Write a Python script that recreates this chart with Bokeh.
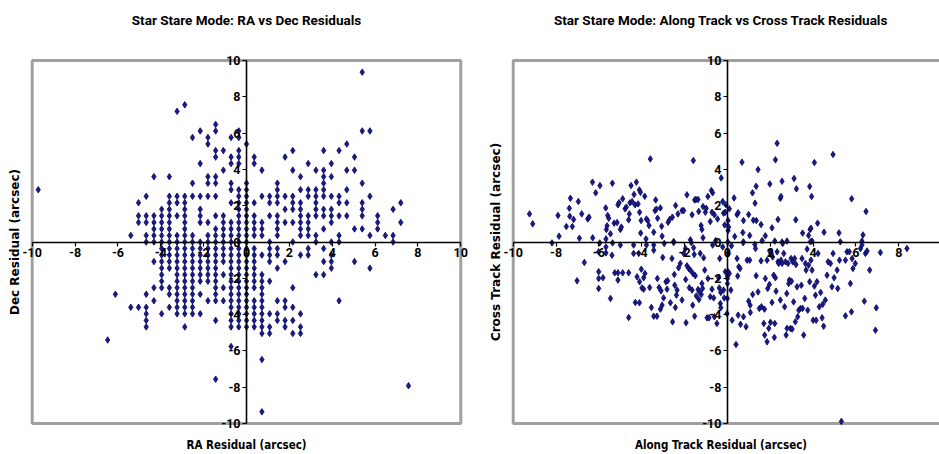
from bokeh.plotting import figure
from bokeh.layouts import row
from bokeh.models import LinearAxis, FixedTicker, Range1d, Title, BoxAnnotation
from bokeh.embed import file_html
from bokeh.resources import INLINE

# ---------------- data ----------------
axis_ticks = [-10, -8, -6, -4, -2, 0, 2, 4, 6, 8, 10]
axis_limits = (-10, 10)

# Left panel: RA vs Dec residuals (arcsec)
ra_resid = [
    -9.72,
    -6.48,
    -6.12,
    -5.40, -5.40,
    -5.04, -5.04, -5.04, -5.04,
    -4.68, -4.68, -4.68, -4.68, -4.68, -4.68, -4.68, -4.68, -4.68, -4.68,
    -4.32, -4.32, -4.32, -4.32, -4.32, -4.32, -4.32, -4.32, -4.32,
    -3.96, -3.96, -3.96, -3.96, -3.96, -3.96, -3.96, -3.96, -3.96, -3.96, -3.96, -3.96, -3.96, -3.96,
    -3.60, -3.60, -3.60, -3.60, -3.60, -3.60, -3.60, -3.60, -3.60, -3.60, -3.60, -3.60, -3.60, -3.60, -3.60, -3.60,
    -3.24, -3.24, -3.24, -3.24, -3.24, -3.24, -3.24, -3.24, -3.24, -3.24, -3.24, -3.24, -3.24, -3.24, -3.24, -3.24, -3.24,
    -2.88, -2.88, -2.88, -2.88, -2.88, -2.88, -2.88, -2.88, -2.88, -2.88, -2.88, -2.88, -2.88, -2.88, -2.88, -2.88, -2.88, -2.88, -2.88, -2.88, -2.88,
    -2.52, -2.52, -2.52, -2.52, -2.52, -2.52, -2.52, -2.52, -2.52, -2.52, -2.52, -2.52, -2.52, -2.52, -2.52, -2.52,
    -2.16, -2.16, -2.16, -2.16, -2.16, -2.16, -2.16, -2.16, -2.16, -2.16, -2.16, -2.16, -2.16, -2.16, -2.16,
    -1.80, -1.80, -1.80, -1.80, -1.80, -1.80, -1.80, -1.80, -1.80, -1.80, -1.80, -1.80, -1.80, -1.80, -1.80,
    -1.44, -1.44, -1.44, -1.44, -1.44, -1.44, -1.44, -1.44, -1.44, -1.44, -1.44, -1.44, -1.44, -1.44, -1.44, -1.44, -1.44, -1.44, -1.44, -1.44, -1.44, -1.44,
    -1.08, -1.08, -1.08, -1.08, -1.08, -1.08, -1.08, -1.08, -1.08, -1.08, -1.08, -1.08, -1.08,
    -0.72, -0.72, -0.72, -0.72, -0.72, -0.72, -0.72, -0.72, -0.72, -0.72, -0.72, -0.72, -0.72, -0.72, -0.72, -0.72, -0.72, -0.72, -0.72, -0.72, -0.72, -0.72, -0.72, -0.72,
    -0.36, -0.36, -0.36, -0.36, -0.36, -0.36, -0.36, -0.36, -0.36, -0.36, -0.36, -0.36, -0.36, -0.36, -0.36, -0.36, -0.36, -0.36, -0.36, -0.36, -0.36, -0.36, -0.36, -0.36, -0.36, -0.36, -0.36,
    0.00, 0.00, 0.00, 0.00, 0.00, 0.00, 0.00, 0.00, 0.00, 0.00, 0.00, 0.00, 0.00, 0.00, 0.00, 0.00, 0.00, 0.00, 0.00, 0.00, 0.00, 0.00, 0.00, 0.00,
    0.36, 0.36, 0.36, 0.36, 0.36, 0.36, 0.36, 0.36, 0.36, 0.36, 0.36, 0.36, 0.36, 0.36, 0.36, 0.36, 0.36, 0.36, 0.36,
    0.72, 0.72, 0.72, 0.72, 0.72, 0.72, 0.72, 0.72, 0.72, 0.72, 0.72, 0.72, 0.72, 0.72, 0.72, 0.72, 0.72, 0.72,
    1.08, 1.08, 1.08, 1.08, 1.08, 1.08, 1.08, 1.08, 1.08, 1.08, 1.08,
    1.44, 1.44, 1.44, 1.44, 1.44, 1.44, 1.44, 1.44, 1.44, 1.44, 1.44, 1.44, 1.44, 1.44,
    1.80, 1.80, 1.80, 1.80, 1.80, 1.80, 1.80, 1.80, 1.80,
    2.16, 2.16, 2.16, 2.16, 2.16, 2.16, 2.16, 2.16, 2.16, 2.16, 2.16,
    2.52, 2.52, 2.52, 2.52, 2.52, 2.52, 2.52, 2.52, 2.52, 2.52, 2.52, 2.52,
    2.88, 2.88, 2.88, 2.88, 2.88, 2.88, 2.88, 2.88, 2.88,
    3.24, 3.24, 3.24, 3.24, 3.24, 3.24, 3.24, 3.24, 3.24,
    3.60, 3.60, 3.60, 3.60, 3.60, 3.60, 3.60, 3.60, 3.60, 3.60, 3.60, 3.60,
    3.96, 3.96, 3.96, 3.96, 3.96, 3.96, 3.96, 3.96, 3.96, 3.96,
    4.32, 4.32, 4.32, 4.32, 4.32, 4.32, 4.32,
    4.68, 4.68, 4.68, 4.68, 4.68,
    5.04, 5.04, 5.04, 5.04,
    5.40, 5.40, 5.40, 5.40, 5.40, 5.40, 5.40,
    5.76, 5.76, 5.76, 5.76,
    6.12, 6.12, 6.12,
    6.48,
    6.84, 6.84, 6.84,
    7.20, 7.20,
    7.56,
]
dec_resid = [
    2.88,
    -5.40,
    -2.88,
    0.36, -3.60,
    2.16, 1.44, 1.08, -3.60,
    2.52, 1.44, 1.08, 0.36, 0.00, -2.88, -3.60, -3.96, -4.32, -4.68,
    3.60, 1.44, 1.08, 0.72, 0.36, 0.00, -1.08, -2.52, -3.24,
    1.80, 1.44, 1.08, 0.72, 0.36, 0.00, -0.36, -0.72, -1.08, -1.44, -1.80, -2.16, -2.52, -3.96,
    3.60, 2.52, 2.16, 1.80, 1.44, 1.08, 0.72, 0.36, 0.00, -0.36, -0.72, -1.08, -1.44, -2.52, -2.88, -3.60,
    7.20, 2.52, 2.16, 1.44, 0.36, 0.00, -0.36, -0.72, -1.08, -1.44, -1.80, -2.16, -2.52, -2.88, -3.24, -3.60, -3.96,
    7.56, 2.52, 2.16, 1.80, 1.44, 1.08, 0.72, 0.36, 0.00, -0.36, -0.72, -1.08, -1.44, -1.80, -2.16, -2.52, -2.88, -3.24, -3.60, -3.96, -4.68,
    5.76, 3.24, 2.52, 0.36, 0.00, -0.36, -0.72, -1.08, -1.44, -1.80, -2.16, -2.52, -2.88, -3.24, -3.60, -3.96,
    6.12, 4.32, 2.52, 1.80, 1.44, 1.08, 0.00, -0.36, -0.72, -1.08, -1.44, -1.80, -2.16, -2.88, -3.96,
    5.76, 5.40, 3.60, 3.24, 2.52, 1.08, 0.36, 0.00, -0.36, -0.72, -1.08, -1.44, -1.80, -2.16, -3.24,
    6.48, 6.12, 5.04, 4.68, 3.60, 3.24, 2.52, 1.44, 0.72, 0.36, 0.00, -0.36, -0.72, -1.08, -1.44, -1.80, -2.16, -2.52, -2.88, -3.24, -4.32, -7.56,
    5.04, 3.96, 1.44, 1.08, 0.72, 0.36, 0.00, -0.36, -0.72, -1.08, -1.80, -2.52, -3.24,
    5.76, 4.68, 4.32, 3.24, 2.88, 2.16, 1.08, 0.72, 0.36, 0.00, -0.36, -0.72, -1.08, -1.44, -1.80, -2.16, -2.52, -2.88, -3.24, -3.60, -3.96, -4.32, -4.68, -5.76,
    6.12, 5.76, 5.04, 4.68, 4.32, 2.88, 2.52, 2.16, 1.80, 1.44, 1.08, 0.72, 0.36, 0.00, -0.36, -0.72, -1.08, -1.44, -1.80, -2.16, -2.52, -2.88, -3.24, -3.60, -3.96, -4.32, -4.68,
    5.40, 3.24, 2.88, 2.52, 2.16, 1.80, 1.44, 1.08, 0.72, 0.36, 0.00, -0.36, -0.72, -1.08, -1.44, -1.80, -2.16, -2.52, -2.88, -3.24, -3.60, -3.96, -4.32, -4.68,
    4.68, 4.32, 2.16, 1.44, 1.08, 0.72, 0.36, -0.36, -0.72, -1.08, -1.44, -1.80, -2.16, -2.52, -3.24, -3.60, -3.96, -4.32, -4.68,
    3.96, 2.52, 1.08, 0.72, 0.36, -0.72, -1.80, -2.16, -2.52, -2.88, -3.24, -3.60, -3.96, -4.32, -4.68, -5.04, -6.48, -9.36,
    2.52, 2.16, 1.44, 0.00, -0.36, -0.72, -1.08, -2.16, -3.96, -4.68, -5.04,
    3.24, 2.88, 2.52, 2.16, 1.44, 1.08, 0.72, 0.36, -0.36, -0.72, -1.44, -3.24, -3.96, -4.32,
    4.68, 2.52, 1.80, 1.08, -1.08, -3.24, -3.60, -4.32, -4.68,
    5.04, 3.96, 2.52, 2.16, 1.80, 1.08, 0.00, -2.52, -3.60, -4.32, -5.04,
    3.60, 2.88, 2.16, 1.80, 1.44, 1.08, 0.72, 0.36, -0.72, -3.96, -4.68, -5.04,
    4.32, 2.88, 2.52, 1.44, 1.08, 0.72, 0.36, -0.36, -0.72,
    3.96, 2.88, 2.52, 2.16, 1.80, 1.44, 0.36, 0.00, -1.80,
    5.04, 3.96, 3.60, 3.24, 2.88, 2.52, 1.80, 1.44, 0.72, -0.36, -1.08, -1.80,
    4.32, 3.60, 2.52, 1.80, 1.44, 1.08, 0.00, -0.72, -1.08, -1.44,
    5.04, 2.52, 2.16, 1.44, 0.36, 0.00, -3.24,
    5.40, 3.96, 2.88, 2.16, 1.44,
    4.68, 3.96, 0.72, -1.08,
    9.36, 6.12, 3.24, 2.16, 1.80, 1.44, 0.72,
    6.12, 2.52, 0.36, -1.44,
    1.44, 1.08, 0.72,
    0.36,
    1.80, 0.36, 0.00,
    2.16, 1.08,
    -7.92,
]

# Right panel: Along Track vs Cross Track residuals (arcsec)
along_resid = [
    -9.24, -9.09, -8.19, -7.91, -7.86, -7.52, -7.38, -7.33, -7.36, -7.24,
    -7.18, -6.96, -6.91, -6.80, -6.52, -6.46, -6.30, -6.29, -6.15, -5.95,
    -5.96, -5.68, -5.65, -5.62, -5.67, -5.59, -5.54, -5.46, -5.37, -5.36,
    -5.29, -5.15, -5.11, -5.06, -5.00, -4.95, -4.89, -4.78, -4.72, -4.61,
    -4.58, -4.55, -4.50, -4.45, -4.36, -4.31, -4.25, -4.17, -4.11, -4.10,
    -4.06, -4.03, -4.05, -3.86, -3.80, -3.78, -3.72, -3.66, -3.60, -3.44,
    -3.38, -3.35, -3.32, -3.26, -3.13, -3.07, -3.05, -2.77, -2.70, -2.57,
    -2.51, -2.42, -2.31, -2.12, -2.04, -1.89, -1.73, -1.65, -1.59, -1.53,
    -1.47, -1.37, -1.34, -1.23, -1.19, -1.14, -1.14, -1.03, -0.99, -0.91,
    -0.80, -0.75, -0.72, -0.69, -0.61, -0.55, -0.46, -0.29, -0.22, -0.18,
    -0.13, -0.10, -0.07,
    0.03, 0.03, 0.06, 0.09, 0.02, 0.31, 0.34, 0.45, 0.50, 0.68,
    0.72, 0.75, 0.75, 0.99, 1.04, 1.17, 1.21, 1.29, 1.34, 1.35,
    1.43, 1.57, 1.62, 1.77, 1.98, 2.08, 2.21, 2.24, 2.32, 2.36,
    2.47, 2.50, 2.55, 2.55, 2.78, 3.11, 3.19, 3.22, 3.51, 3.79,
    3.84, 3.86, 3.90, 3.93, 3.95, 4.06, 4.21, 4.51, 4.93, 5.21,
    5.80, 6.28, 6.33, 6.47,
    -7.02, -6.68, -6.01, -6.01, -6.01, -6.01, -5.81, -5.67, -5.67, -5.46,
    -5.39, -5.26, -5.11, -5.11, -5.00, -4.89, -4.61, -4.61, -4.38, -4.38,
    -4.30, -4.22, -4.14, -4.11, -4.10, -4.02, -3.99, -3.91, -3.91, -3.85,
    -3.78, -3.63, -3.55, -3.44, -3.44, -3.44, -3.29, -3.27, -3.19, -3.13,
    -3.10, -3.05, -3.02, -2.98, -2.95, -2.87, -2.82, -2.79, -2.66, -2.59,
    -2.56, -2.51, -2.48, -2.46, -2.43, -2.38, -2.35, -2.28, -2.20, -2.12,
    -2.04, -1.96, -1.95, -1.93, -1.89, -1.81, -1.78, -1.73, -1.69, -1.65,
    -1.62, -1.61, -1.58, -1.55, -1.53, -1.50, -1.45, -1.37, -1.33, -1.30,
    -1.27, -1.22, -1.19, -1.16, -1.11, -1.06, -0.95, -0.91, -0.86, -0.80,
    -0.72, -0.69, -0.64, -0.61, -0.49, -0.41, -0.38, -0.36, -0.33, -0.22,
    -0.18, -0.15, -0.10, -0.02, -0.31, -0.31,
    0.03, 0.00, 0.00, 0.00, 0.09, 0.16, 0.19, 0.22, 0.40, 0.45,
    0.48, 0.50, 0.53, 0.59, 0.61, 0.73, 0.75, 0.87, 0.92, 0.99,
    1.04, 1.06, 1.07, 1.18, 1.28, 1.31, 1.34, 1.43, 1.49, 1.57,
    1.59, 1.70, 1.73, 1.74, 1.77, 1.85, 1.85, 1.88, 1.93, 1.96,
    1.99, 2.01, 2.05, 2.08, 2.11, 2.16, 2.19, 2.21, 2.24, 2.27,
    2.32, 2.36, 2.39, 2.47, 2.50, 2.55, 2.58, 2.63, 2.67, 2.71,
    2.74, 2.77, 2.78, 2.83, 2.86, 2.89, 2.94, 2.97, 2.99, 3.02,
    3.05, 3.09, 3.14, 3.17, 3.20, 3.25, 3.28, 3.33, 3.41, 3.45,
    3.48, 3.51, 3.56, 3.61, 3.64, 3.67, 3.72, 3.75, 3.79, 3.84,
    3.87, 3.90, 3.95, 4.00, 4.06, 4.11, 4.14, 4.18, 4.23, 4.29,
    4.35, 4.42, 4.45, 4.49, 4.57, 4.65, 4.70, 4.81, 4.88, 4.93,
    4.98, 5.12, 5.15, 5.23, 5.27, 5.51, 5.51, 5.58, 5.69, 5.74,
    5.79, 5.82, 5.86, 5.97, 6.21, 6.28, 6.39, 6.44, 6.52, 6.64,
    6.91, 6.95, 7.14, 8.38, 5.32, 0.03, 0.00,
]
cross_resid = [
    1.55, 1.00, -0.05, 1.46, 0.32, 0.85, 1.86, 2.41, 1.42, 0.85,
    1.24, 2.23, 0.21, 1.55, 1.27, 1.37, 3.30, 0.23, 2.71, 3.11,
    -0.05, 1.88, 0.69, 0.89, 0.17, 1.46, 1.31, 0.45, 3.24, -0.05,
    1.04, 1.07, 2.05, 2.16, 0.69, 0.82, 2.38, 1.83, 1.92, 1.22,
    1.55, 2.16, 3.11, 2.23, 2.62, 2.05, 3.30, 2.10, 2.87, 1.64,
    2.74, 1.18, 0.49, 2.52, 0.17, 1.27, 1.18, 0.91, 4.58, 0.54,
    1.73, 2.32, 1.81, 1.31, 1.88, 0.87, 0.32, 1.09, 1.24, 1.37,
    0.03, 2.01, 1.55, 1.73, 1.73, 2.60, 0.12, 1.50, 4.49, 2.32,
    2.34, 2.34, 1.68, 0.91, 0.69, 0.23, 1.95, 1.64, 1.86, 2.51,
    1.13, 2.84, 1.64, 2.71, 1.50, 0.08, 1.27, 3.53, 2.23, 1.59,
    0.94, 1.64, 2.06,
    1.18, 0.63, 0.82, 1.83, 0.00, 2.43, 0.30, 1.51, 1.61, 4.40,
    0.52, 1.18, 0.00, 1.51, 0.36, 2.71, 1.20, 2.14, 3.07, 1.18,
    3.99, 0.96, 0.08, 0.34, 3.20, 0.78, 0.05, 4.53, 5.44, 1.24,
    2.41, 2.51, 3.35, 0.00, 0.05, 3.50, 1.22, 2.93, 0.49, 0.36,
    3.06, 0.69, 0.76, 2.51, 0.05, 4.38, 1.04, 0.54, 4.82, 0.50,
    2.38, 0.05, 0.39, 1.68,
    -2.14, -1.13, -0.54, -1.64, -2.01, -2.56, -1.97, -0.27, -0.60, -3.11,
    -0.73, -1.70, -1.70, -2.10, -0.17, -1.70, -1.70, -4.16, -0.17, -0.63,
    -3.33, -1.92, -0.63, -3.35, -2.19, -1.50, -2.53, -1.97, -2.60, -1.74,
    -0.17, -2.51, -3.61, -4.09, -0.17, -0.45, -4.09, -2.01, -2.51, -3.70,
    -2.69, -3.48, -0.85, -3.08, -0.08, -2.19, -2.60, -2.14, -3.35, -0.91,
    -4.40, -0.03, -1.79, -2.38, -3.61, -2.93, -2.65, -1.42, -1.18, -3.20,
    -0.63, -0.36, -2.07, -4.45, -1.31, -1.46, -2.52, -1.55, -0.03, -2.65,
    -3.48, -1.74, -0.32, -0.69, -4.09, -1.86, -2.97, -2.62, -3.17, -2.75,
    -0.63, -2.89, -2.29, -2.56, -0.87, -1.55, -4.18, -2.01, -4.18, -3.02,
    -2.60, -0.17, -3.08, -4.12, -4.49, -1.97, -2.53, -0.91, -3.39, -0.27,
    -2.65, -3.08, -1.64, -3.94, -2.78, -3.62,
    -0.63, -2.01, -2.29, -3.11, -1.74, -2.65, -0.21, -4.31, -5.65, -0.91,
    -1.88, -4.03, -1.37, -1.46, -4.54, -0.03, -4.12, -4.67, -1.00, -3.26,
    -1.00, -3.48, -3.88, -2.89, -0.14, -0.36, -1.86, -2.75, -3.66, -1.04,
    -3.57, -4.49, -3.70, -5.13, -2.01, -1.00, -5.50, -2.56, -4.76, -2.34,
    -0.54, -4.43, -0.63, -3.33, -0.82, -1.83, -5.26, -4.49, -1.97, -2.71,
    -0.54, -1.09, -1.18, -3.20, -1.00, -1.18, -0.08, -0.63, -3.57, -1.09,
    -5.13, -2.84, -4.76, -1.18, -2.29, -2.10, -4.76, -0.91, -2.16, -4.80,
    -1.09, -3.30, -0.91, -4.40, -1.24, -2.47, -4.12, -3.76, -3.66, -2.38,
    -0.91, -3.66, -5.13, -3.11, -1.18, -1.55, -0.39, -3.76, -1.28, -2.19,
    0.01, -1.00, -1.55, -4.31, -2.43, -2.93, -4.31, -2.19, -0.63, -3.57,
    -2.78, -4.18, -3.43, -4.64, -3.20, -1.83, -1.09, -1.18, -2.47, -0.63,
    -1.97, -1.55, -2.56, -1.00, 0.01, -4.07, -1.00, -0.54, -0.54, -2.29,
    -3.85, -0.91, -1.46, -1.18, -0.36, -0.17, -3.26, -0.63, -0.50, -1.55,
    -4.86, -3.63, -0.58, -0.36, -9.89, -1.64, -1.88,
]

titles = ["Star Stare Mode: RA vs Dec Residuals",
          "Star Stare Mode: Along Track vs Cross Track Residuals"]
x_labels = ["RA Residual (arcsec)", "Along Track Residual (arcsec)"]
y_labels = ["Dec Residual (arcsec)", "Cross Track Residual (arcsec)"]

# ---------------- styling ----------------
TITLE_FONT = "Roboto"
TICK_FONT = "Roboto"
XLABEL_FONT = "DejaVu Sans Condensed"
YLABEL_FONT = "DejaVu Sans"
MARKER_FILL = "#1a1a8a"
MARKER_LINE = "#05055a"
BORDER_GRAY = "#a0a0a0"


def make_panel(title, xlabel, ylabel, xs, ys, x_rng, border_left, frame_w):
    p = figure(frame_width=frame_w, frame_height=381,
               x_range=Range1d(*x_rng), y_range=Range1d(-10.5, 10.5),
               x_axis_location=None, y_axis_location=None, title=None,
               output_backend="svg", toolbar_location=None,
               min_border_left=border_left, min_border_right=0,
               min_border_top=51, min_border_bottom=22,
               outline_line_color=None,
               background_fill_color="white", border_fill_color="white")
    p.grid.visible = False

    # plot-area border (Excel style grey box around the -10..10 square)
    p.add_layout(BoxAnnotation(left=axis_limits[0], right=axis_limits[1],
                               bottom=axis_limits[0], top=axis_limits[1],
                               fill_alpha=0, line_color=BORDER_GRAY,
                               line_alpha=1.0, line_width=3,
                               level="underlay"))

    # spacer above the frame, then the chart title
    p.add_layout(Title(text=" ", text_font_size="1px", standoff=19), "above")
    p.add_layout(Title(text=title, align="center", text_font=TITLE_FONT,
                       text_font_size="13.5px", text_font_style="bold",
                       text_color="black", standoff=4), "above")

    p.scatter(xs, ys, marker="diamond", size=6.5,
              fill_color=MARKER_FILL, line_color=MARKER_LINE, line_width=0.8)

    overrides = {t: str(t) for t in axis_ticks}
    for side in ("below", "left"):
        ax = LinearAxis(fixed_location=0, bounds=axis_limits,
                        ticker=FixedTicker(ticks=axis_ticks, minor_ticks=[]))
        ax.major_label_overrides = overrides
        ax.axis_line_color = "black"
        ax.axis_line_width = 1.6
        ax.major_tick_line_color = "black"
        ax.major_tick_line_width = 1.2
        ax.major_tick_out = 4
        ax.major_tick_in = 0
        ax.minor_tick_out = 0
        ax.minor_tick_in = 0
        ax.major_label_standoff = 2
        ax.major_label_text_font = TICK_FONT
        ax.major_label_text_font_size = "12.5px"
        ax.major_label_text_font_style = "bold"
        ax.major_label_text_color = "black"
        p.add_layout(ax, side)

    p.add_layout(Title(text=xlabel, align="center", text_font=XLABEL_FONT,
                       text_font_size="11.5px", text_font_style="bold",
                       text_color="black", standoff=7), "below")
    p.add_layout(Title(text=ylabel, align="center", text_font=YLABEL_FONT,
                       text_font_size="12px", text_font_style="bold",
                       text_color="black", standoff=0), "left")
    return p


left = make_panel(titles[0], x_labels[0], y_labels[0], ra_resid, dec_resid,
                  (-10.5, 10.5), 21, 450)
right = make_panel(titles[1], x_labels[1], y_labels[1], along_resid, cross_resid,
                   (-10.5, 9.9), 31, 437)

layout = row(left, right)
open("out.html", "w").write(file_html(layout, INLINE))
